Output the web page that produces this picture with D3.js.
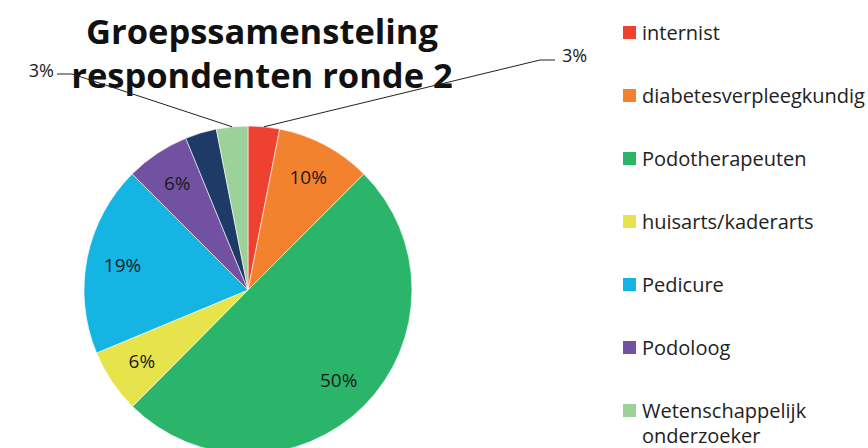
<!DOCTYPE html>
<html>
<head>
<meta charset="utf-8">
<script src="https://cdn.jsdelivr.net/npm/d3@7"></script>
<style>
  body { margin: 0; background: #fff; }
  svg { display: block; font-family: "Open Sans", sans-serif; }
</style>
</head>
<body>
<div id="chart"></div>
<script>
// slices in clockwise order from 12 o'clock
const categories = ["internist", "diabetesverpleegkundig", "Podotherapeuten", "huisarts/kaderarts",
    "Pedicure", "Podoloog", "overig", "Wetenschappelijk onderzoeker"];
const values = [3.1, 9.4, 50, 6.3, 18.8, 6.3, 3.1, 3.1];
const labels = ["3%", "10%", "50%", "6%", "19%", "6%", "", "3%"];
const colors = ["#ee4130", "#f3822f", "#2bb56b", "#e6e34b", "#15b5e3", "#7351a2", "#1e3a66", "#9dd19a"];
// legend entries visible in the picture (the dark slice has none)
const legendOrder = [0, 1, 2, 3, 4, 5, 7];

const width = 868, height = 448;
const cx = 248, cy = 290, radius = 164;

const svg = d3.select("#chart")
    .append("svg")
    .attr("width", width)
    .attr("height", height);

const pie = d3.pie().sort(null).value(d => d.value);
const arcs = pie(categories.map((c, i) => ({name: c, value: values[i], label: labels[i], color: colors[i]})));

const arc = d3.arc().innerRadius(0).outerRadius(radius);
const labelArc = d3.arc().innerRadius(radius * 0.78).outerRadius(radius * 0.78);
const edgeArc = d3.arc().innerRadius(radius).outerRadius(radius);

const g = svg.append("g").attr("transform", `translate(${cx},${cy})`);

g.selectAll("path.slice")
    .data(arcs)
    .join("path")
    .attr("class", "slice")
    .attr("d", arc)
    .attr("fill", d => d.data.color)
    .attr("stroke", "#ffffff")
    .attr("stroke-width", 0.6);

// labels inside the bigger slices
g.selectAll("text.inside")
    .data(arcs.filter(d => d.data.value > 5))
    .join("text")
    .attr("class", "inside")
    .attr("transform", d => `translate(${labelArc.centroid(d)})`)
    .attr("text-anchor", "middle")
    .attr("dy", "0.35em")
    .style("font-size", "19px")
    .style("fill", "#1a1a1a")
    .text(d => d.data.label);

// title
const title = svg.append("text")
    .attr("text-anchor", "middle")
    .style("font-size", "34.5px")
    .style("font-weight", "bold")
    .style("fill", "#111");
title.append("tspan").attr("x", 262).attr("y", 44).text("Groepssamensteling");
title.append("tspan").attr("x", 262).attr("y", 88).text("respondenten ronde 2");

// leader lines for the two small labelled slices
const callouts = [
    {i: 0, end: [540, 60], elbow: [555, 60], text: [562, 56], anchor: "start"},
    {i: 7, end: [72, 74], elbow: [57, 74], text: [54, 71], anchor: "end"}
];
callouts.forEach(c => {
    const p = edgeArc.centroid(arcs[c.i]);
    const start = [p[0] + cx, p[1] + cy];
    svg.append("polyline")
        .attr("points", [start, c.end, c.elbow].map(q => q.join(",")).join(" "))
        .attr("fill", "none")
        .attr("stroke", "#222")
        .attr("stroke-width", 1);
    svg.append("text")
        .attr("x", c.text[0])
        .attr("y", c.text[1])
        .attr("dy", "0.35em")
        .attr("text-anchor", c.anchor)
        .style("font-size", "18px")
        .style("fill", "#1a1a1a")
        .text(arcs[c.i].data.label);
});

// legend
const legend = svg.append("g").attr("transform", "translate(623,0)");
const item = legend.selectAll("g")
    .data(legendOrder)
    .join("g")
    .attr("transform", (d, k) => `translate(0,${34 + k * 63})`);
item.append("rect")
    .attr("x", 0).attr("y", -8)
    .attr("width", 13).attr("height", 13)
    .attr("fill", d => colors[d]);
item.append("text")
    .attr("x", 19)
    .attr("y", 0)
    .style("font-size", "20px")
    .style("fill", "#222")
    .each(function(d) {
        const words = categories[d] === "Wetenschappelijk onderzoeker"
            ? ["Wetenschappelijk", "onderzoeker"] : [categories[d]];
        words.forEach((w, j) => {
            d3.select(this).append("tspan")
                .attr("x", 19)
                .attr("dy", j === 0 ? "0.3em" : "1.25em")
                .text(w);
        });
    });
</script>
</body>
</html>
